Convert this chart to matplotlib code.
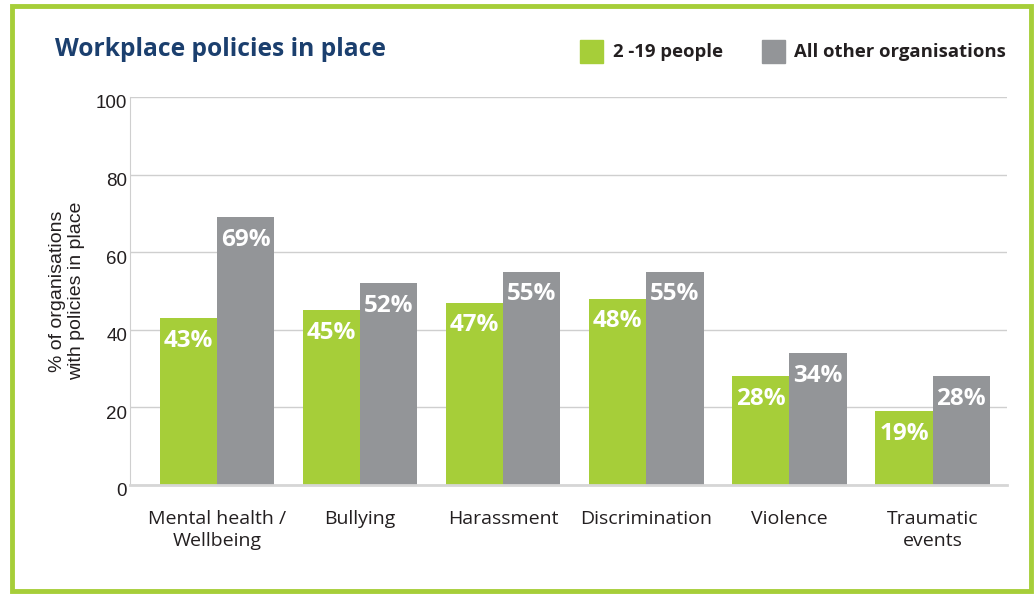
import numpy as np
import matplotlib.pyplot as plt
from matplotlib.patches import Rectangle
from matplotlib.transforms import ScaledTranslation

categories = ["Mental health /\nWellbeing", "Bullying", "Harassment",
              "Discrimination", "Violence", "Traumatic\nevents"]
small_orgs = [43, 45, 47, 48, 28, 19]
other_orgs = [69, 52, 55, 55, 34, 28]
series_names = ["2 -19 people", "All other organisations"]
yticks = [0, 20, 40, 60, 80, 100]

green = "#A6CE39"
grey = "#939598"
navy = "#1B3F6E"
txt = "#231F20"

fig = plt.figure(figsize=(10.35, 5.95), dpi=100)
ax = fig.add_axes([130 / 1035, 1 - 485 / 595, 877 / 1035, 388 / 595])

x = np.arange(len(categories))
w = 0.4
b1 = ax.bar(x - w / 2, small_orgs, w, color=green, zorder=2)
b2 = ax.bar(x + w / 2, other_orgs, w, color=grey, zorder=2)

for bars, vals in [(b1, small_orgs), (b2, other_orgs)]:
    for r, v in zip(bars, vals):
        ax.text(r.get_x() + r.get_width() / 2, v - 5.8, f"{v}%", ha="center", va="center",
                color="white", fontsize=17.5, fontweight="bold", family="Open Sans", zorder=3)

ax.set_xlim(-0.608, 5.52)
ax.set_ylim(0, 100)
ax.set_yticks(yticks)
ax.set_yticklabels([str(t) for t in yticks], family="Liberation Sans", fontsize=13.5, color=txt)
ax.set_xticks(x)
ax.set_xticklabels(categories, family="Open Sans", fontsize=14, color=txt, linespacing=1.25)
ax.tick_params(axis="both", length=0)
ax.tick_params(axis="y", pad=2)
ax.tick_params(axis="x", pad=18)
shift = ScaledTranslation(0, -5 / 100, fig.dpi_scale_trans)
for lbl in ax.get_yticklabels():
    lbl.set_transform(lbl.get_transform() + shift)
ax.grid(axis="y", color="#CFCFCF", linewidth=1, zorder=0)
for s in ["top", "right"]:
    ax.spines[s].set_visible(False)
ax.spines["left"].set_color("#CFCFCF")
ax.spines["bottom"].set_color("#D6D6D6")
ax.spines["bottom"].set_linewidth(2)

ax.set_ylabel("% of organisations\nwith policies in place", family="Liberation Sans",
              fontsize=14, color=txt, labelpad=8, linespacing=1.1)

fig.text(55 / 1035, 1 - 49 / 595, "Workplace policies in place", fontsize=17.7,
         fontweight="bold", color=navy, family="Open Sans", va="center")

# legend
fig.patches.append(Rectangle((580 / 1035, 1 - 63 / 595), 23 / 1035, 23 / 595,
                             transform=fig.transFigure, color=green))
fig.text(613 / 1035, 1 - 52 / 595, series_names[0], fontsize=13.3, fontweight="bold",
         color=txt, family="Open Sans", va="center")
fig.patches.append(Rectangle((762 / 1035, 1 - 63 / 595), 23 / 1035, 23 / 595,
                             transform=fig.transFigure, color=grey))
fig.text(794 / 1035, 1 - 52 / 595, series_names[1], fontsize=13.3, fontweight="bold",
         color=txt, family="Open Sans", va="center")

# green frame
fig.patches.append(Rectangle((12 / 1035, 1 - 591 / 595), 1019 / 1035, 585 / 595,
                             transform=fig.transFigure, fill=False, edgecolor=green, linewidth=3.5))

fig.savefig("out.png", dpi=100)
